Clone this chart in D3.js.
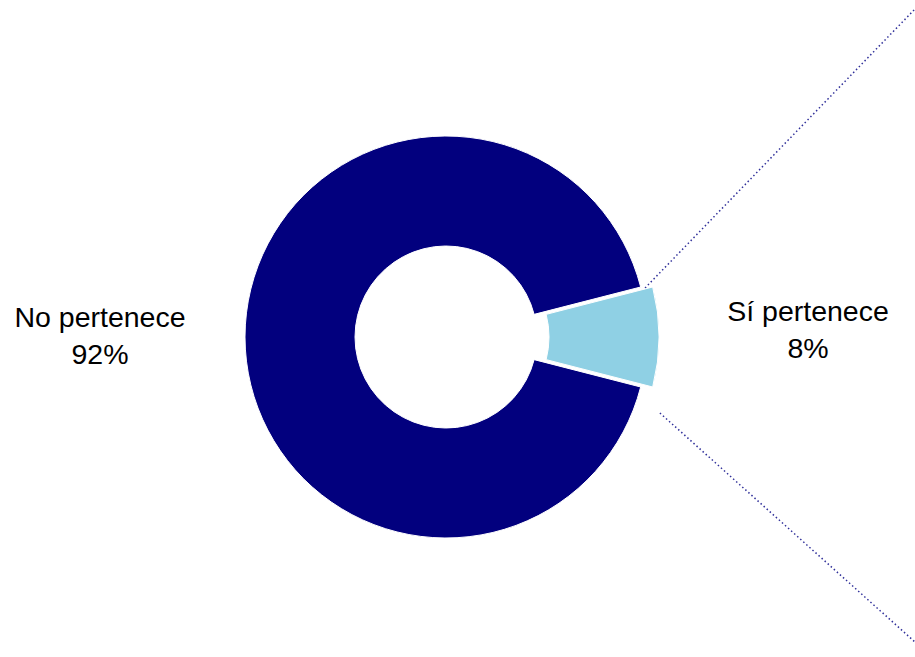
<!DOCTYPE html>
<html>
<head>
<meta charset="utf-8">
<script src="https://cdn.jsdelivr.net/npm/d3@7"></script>
<style>
  html, body { margin: 0; padding: 0; background: #fff; }
  svg { display: block; }
  text { font-family: "Liberation Sans", Arial, sans-serif; fill: #000; }
</style>
</head>
<body>
<svg id="chart" width="915" height="657"></svg>
<script>
// Data
const categories = ["Sí pertenece", "No pertenece"];
const values = [8, 92];
const percentLabels = ["8%", "92%"];
const colors = ["#8fd0e4", "#02007e"];

const W = 915, H = 657;
const cx = 446, cy = 337;
const outerR = 201, innerR = 91;
const explode = 12;

const svg = d3.select("#chart");

const total = d3.sum(values);
const start = Math.PI / 2 - (values[0] / total) * Math.PI;
const pie = d3.pie().sort(null).value(d => d.v)
  .startAngle(start).endAngle(start + 2 * Math.PI);
const arcs = pie(categories.map((c, i) => ({ c, v: values[i], p: percentLabels[i], col: colors[i] })));

const arc = d3.arc().innerRadius(innerR).outerRadius(outerR);

const g = svg.append("g").attr("transform", `translate(${cx},${cy})`);

// connector lines (dotted) from exploded slice toward right edge
const conn = [
  { a: arcs[0].startAngle + 0.01, r: outerR + 4, end: [W - cx, 9 - cy] },
  { a: arcs[0].endAngle + 0.09, r: outerR + 26, end: [W - cx, 642 - cy] }
];
g.selectAll("line.conn").data(conn).join("line")
  .attr("class", "conn")
  .attr("x1", d => d.r * Math.sin(d.a))
  .attr("y1", d => -d.r * Math.cos(d.a))
  .attr("x2", d => d.end[0])
  .attr("y2", d => d.end[1])
  .attr("stroke", "#30309a")
  .attr("stroke-width", 1.5)
  .attr("stroke-dasharray", "1.5,2.6");

g.selectAll("path.slice").data(arcs).join("path")
  .attr("class", "slice")
  .attr("d", arc)
  .attr("fill", d => d.data.col)
  .attr("stroke", "#fff")
  .attr("stroke-width", 1)
  .attr("transform", (d, i) => {
    if (i !== 0) return null;
    const m = (d.startAngle + d.endAngle) / 2;
    return `translate(${explode * Math.sin(m)},${-explode * Math.cos(m)})`;
  });

// Labels
const labelPos = [
  { x: 808, y1: 321, y2: 358 },
  { x: 100, y1: 327, y2: 364 }
];
const lab = svg.selectAll("g.lab").data(arcs).join("g").attr("class", "lab");
lab.append("text")
  .attr("x", (d, i) => labelPos[i].x)
  .attr("y", (d, i) => labelPos[i].y1)
  .attr("text-anchor", "middle")
  .attr("font-size", 28.5)
  .text(d => d.data.c);
lab.append("text")
  .attr("x", (d, i) => labelPos[i].x)
  .attr("y", (d, i) => labelPos[i].y2)
  .attr("text-anchor", "middle")
  .attr("font-size", 28.5)
  .text(d => d.data.p);
</script>
</body>
</html>
